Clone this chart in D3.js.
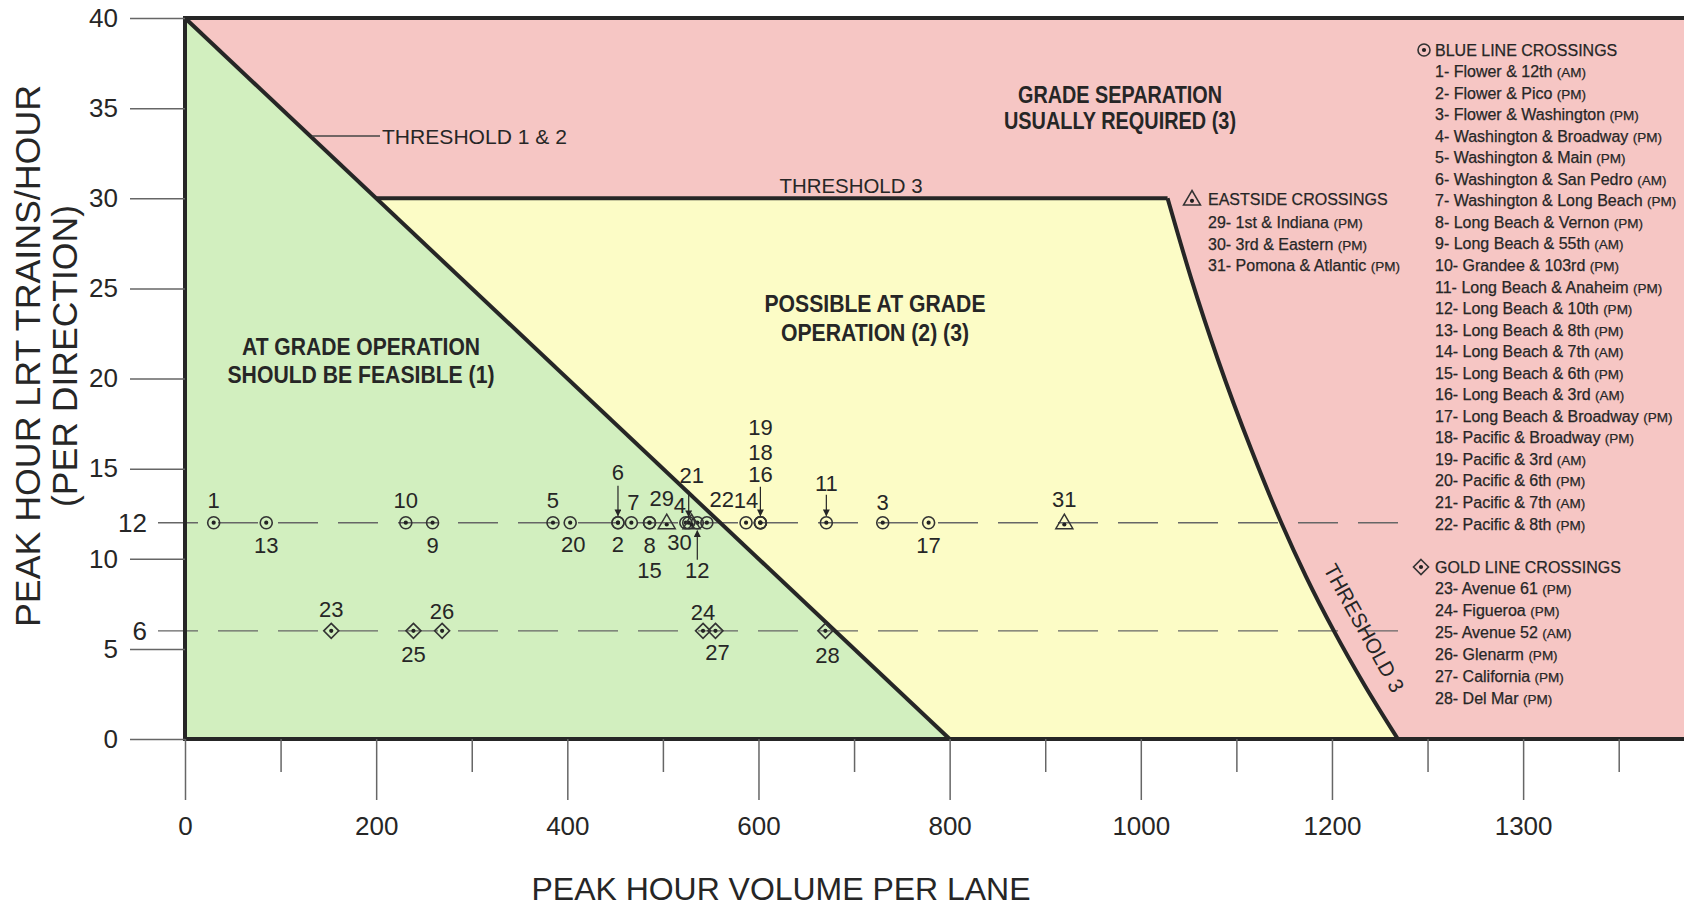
<!DOCTYPE html>
<html>
<head>
<meta charset="utf-8">
<title>LRT crossings</title>
<script src="https://cdn.jsdelivr.net/npm/d3@7"></script>
<style>
body { margin: 0; background: #fff; }
svg text { font-family: "Liberation Sans", Arial, sans-serif; fill: #262626; }
</style>
</head>
<body>
<svg width="1684" height="906"></svg>
<script>
// ---- data ----
var blueIds = [1,2,3,4,5,6,7,8,9,10,11,12,13,14,15,16,17,18,19,20,21,22];
var blueVolume = [30,453,730,524,385,453,467,486,259,231,671,536,85,587,486,602,778,602,602,403,527,546];
var blueTrains = [12,12,12,12,12,12,12,12,12,12,12,12,12,12,12,12,12,12,12,12,12,12];
var blueNames = ["Flower & 12th","Flower & Pico","Flower & Washington","Washington & Broadway",
  "Washington & Main","Washington & San Pedro","Washington & Long Beach","Long Beach & Vernon",
  "Long Beach & 55th","Grandee & 103rd","Long Beach & Anaheim","Long Beach & 10th",
  "Long Beach & 8th","Long Beach & 7th","Long Beach & 6th","Long Beach & 3rd",
  "Long Beach & Broadway","Pacific & Broadway","Pacific & 3rd","Pacific & 6th",
  "Pacific & 7th","Pacific & 8th"];
var blueTimes = ["AM","PM","PM","PM","PM","AM","PM","PM","AM","PM","PM","PM","PM","AM","PM","AM","PM","PM","AM","PM","AM","PM"];

var goldIds = [23,24,25,26,27,28];
var goldVolume = [153,542,239,269,555,670];
var goldTrains = [6,6,6,6,6,6];
var goldNames = ["Avenue 61","Figueroa","Avenue 52","Glenarm","California","Del Mar"];
var goldTimes = ["PM","PM","AM","PM","PM","PM"];

var eastIds = [29,30,31];
var eastVolume = [504,530,920];
var eastTrains = [12,12,12];
var eastNames = ["1st & Indiana","3rd & Eastern","Pomona & Atlantic"];
var eastTimes = ["PM","PM","PM"];

// zone boundaries (volume, trains)
var threshold12 = [[0,40],[800,0]];
var threshold3Flat = [[200,30],[1028,30]];
var threshold3Curve = [[1028,30],[1053,25.5],[1081,21],[1116,16],[1147,12],[1173,9],[1202,6],[1234,3],[1269,0]];

var xTicks = [0,200,400,600,800,1000,1200,1400];
var xTickLabels = ["0","200","400","600","800","1000","1200","1300"];
var xMinorTicks = [100,300,500,700,900,1100,1300,1500];
var yTicks = [0,5,10,15,20,25,30,35,40];
var refLines = [12,6];

// label placement around each marker: [dx, dy, arrowFrom, arrowTo]
var labelLayout = {
  1:[0,-15], 13:[0,30], 10:[0,-15], 9:[0,30], 5:[0,-15], 20:[3,29], 2:[0,29],
  6:[0,-43,-37,-7], 7:[2,-13], 8:[0,30], 15:[0,55], 4:[-6,-10], 21:[3,-40,-32,-6],
  12:[0,55,-37,-8], 22:[15,-16], 14:[0,-15], 16:[0,-41,-36,-7], 18:[0,-63], 19:[0,-88],
  11:[0,-32,-28,-7], 3:[0,-13], 17:[0,30],
  29:[-5,-17], 30:[-12,27], 31:[0,-16],
  23:[0,-14], 24:[0,-11], 25:[0,31], 26:[0,-12], 27:[2,29], 28:[2,32]
};

var svg = d3.select('svg');
var W = 1684;

var x = d3.scaleLinear().domain([0,1400]).range([185, 185 + 1400*0.9558]);
var y = d3.scaleLinear().domain([0,40]).range([739, 18]);

var pink = '#f6c6c4', green = '#d2efbf', yellow = '#fcfcc6', ink = '#262626';

// zones
svg.append('rect')
  .attr('x', x(0)).attr('y', y(40))
  .attr('width', W - x(0)).attr('height', y(0) - y(40))
  .attr('fill', pink);

svg.append('path')
  .attr('d', d3.line()([[x(0),y(40)],[x(800),y(0)],[x(0),y(0)]]) + 'Z')
  .attr('fill', green);

var curveGen = d3.line().x(function(d){ return x(d[0]); }).y(function(d){ return y(d[1]); })
  .curve(d3.curveMonotoneX);
var curvePath = curveGen(threshold3Curve);

svg.append('path')
  .attr('d', 'M' + x(threshold3Flat[0][0]) + ',' + y(threshold3Flat[0][1]) + 'L' + curvePath.substring(1)
     + 'L' + x(800) + ',' + y(0) + 'Z')
  .attr('fill', yellow);

// reference dashed lines
refLines.forEach(function(v){
  svg.append('line')
    .attr('x1', 158).attr('x2', 1412)
    .attr('y1', y(v)).attr('y2', y(v))
    .attr('stroke', '#666').attr('stroke-width', 1.4)
    .attr('stroke-dasharray', '40,20');
  svg.append('text')
    .text(v)
    .attr('x', 147).attr('y', y(v)).attr('dy', '0.36em')
    .attr('text-anchor', 'end')
    .attr('font-size', '26px');
});

// threshold lines
var lineGen = d3.line().x(function(d){ return x(d[0]); }).y(function(d){ return y(d[1]); });
svg.append('path').attr('d', lineGen(threshold12))
  .attr('stroke', ink).attr('stroke-width', 4).attr('fill', 'none');
svg.append('path').attr('d', lineGen(threshold3Flat))
  .attr('stroke', ink).attr('stroke-width', 4).attr('fill', 'none');
svg.append('path').attr('d', curvePath)
  .attr('stroke', ink).attr('stroke-width', 4).attr('fill', 'none');

// frame
svg.append('path')
  .attr('d', 'M' + W + ',' + y(40) + 'L' + x(0) + ',' + y(40) + 'L' + x(0) + ',' + y(0) + 'L' + W + ',' + y(0))
  .attr('stroke', ink).attr('stroke-width', 4).attr('fill', 'none');

// axes
var yAxis = svg.append('g')
  .attr('transform', 'translate(' + x(0) + ',0)')
  .call(d3.axisLeft(y).tickValues(yTicks).tickSize(55).tickPadding(12));
yAxis.select('.domain').remove();
yAxis.selectAll('line').attr('stroke', '#666').attr('stroke-width', 1.5);
yAxis.selectAll('text').attr('font-size', '26px').attr('fill', '#333')
  .style('font-family', '"Liberation Sans", Arial, sans-serif');

var xAxis = svg.append('g')
  .attr('transform', 'translate(0,' + y(0) + ')')
  .call(d3.axisBottom(x).tickValues(xTicks).tickSize(61).tickPadding(17)
    .tickFormat(function(d, i){ return xTickLabels[i]; }));
xAxis.select('.domain').remove();
xAxis.selectAll('line').attr('stroke', '#666').attr('stroke-width', 1.5);
xAxis.selectAll('text').attr('font-size', '26px').attr('fill', '#333')
  .style('font-family', '"Liberation Sans", Arial, sans-serif');

var xMinor = svg.append('g')
  .attr('transform', 'translate(0,' + y(0) + ')')
  .call(d3.axisBottom(x).tickValues(xMinorTicks).tickSize(33).tickFormat(''));
xMinor.select('.domain').remove();
xMinor.selectAll('line').attr('stroke', '#666').attr('stroke-width', 1.5);

// axis titles
svg.append('text')
  .text('PEAK HOUR VOLUME PER LANE')
  .attr('x', 781).attr('y', 900)
  .attr('text-anchor', 'middle')
  .attr('font-size', '32px')
  .attr('textLength', 499).attr('lengthAdjust', 'spacingAndGlyphs')
  .attr('fill', '#333');

svg.append('text')
  .text('PEAK HOUR LRT TRAINS/HOUR')
  .attr('transform', 'translate(40,356) rotate(-90)')
  .attr('text-anchor', 'middle')
  .attr('font-size', '35px')
  .attr('textLength', 542).attr('lengthAdjust', 'spacingAndGlyphs')
  .attr('fill', '#333');

svg.append('text')
  .text('(PER DIRECTION)')
  .attr('transform', 'translate(77,356) rotate(-90)')
  .attr('text-anchor', 'middle')
  .attr('font-size', '35px')
  .attr('textLength', 302).attr('lengthAdjust', 'spacingAndGlyphs')
  .attr('fill', '#333');

// zone captions
function caption(lines, cx, baselines, lengths) {
  lines.forEach(function(t, i){
    svg.append('text')
      .text(t)
      .attr('x', cx).attr('y', baselines[i])
      .attr('text-anchor', 'middle')
      .attr('font-size', '23px').attr('font-weight', 'bold')
      .attr('textLength', lengths[i]).attr('lengthAdjust', 'spacingAndGlyphs');
  });
}
caption(['GRADE SEPARATION','USUALLY REQUIRED (3)'], 1120, [103,129], [204,232]);
caption(['POSSIBLE AT GRADE','OPERATION (2) (3)'], 875, [312,341], [221,188]);
caption(['AT GRADE OPERATION','SHOULD BE FEASIBLE (1)'], 361, [355,383], [238,267]);

svg.append('line')
  .attr('x1', 312).attr('x2', 380).attr('y1', 136).attr('y2', 136)
  .attr('stroke', '#444').attr('stroke-width', 1.3);
svg.append('text')
  .text('THRESHOLD 1 & 2')
  .attr('x', 382).attr('y', 144)
  .attr('font-size', '21px')
  .attr('textLength', 185).attr('lengthAdjust', 'spacingAndGlyphs');
svg.append('text')
  .text('THRESHOLD 3')
  .attr('x', 851).attr('y', 193)
  .attr('text-anchor', 'middle')
  .attr('font-size', '21px')
  .attr('textLength', 143).attr('lengthAdjust', 'spacingAndGlyphs');
svg.append('text')
  .text('THRESHOLD 3')
  .attr('transform', 'translate(1364,628) rotate(61)')
  .attr('text-anchor', 'middle')
  .attr('dy', '0.35em')
  .attr('font-size', '21px')
  .attr('textLength', 143).attr('lengthAdjust', 'spacingAndGlyphs');

// markers
svg.append('defs').append('marker')
  .attr('id', 'arr').attr('viewBox', '0 0 10 10')
  .attr('refX', 9).attr('refY', 5)
  .attr('markerWidth', 7).attr('markerHeight', 7)
  .attr('markerUnits', 'userSpaceOnUse')
  .attr('orient', 'auto')
  .append('path').attr('d', 'M0,0L10,5L0,10Z').attr('fill', ink);

function drawMarker(g, type, cx, cy) {
  var m = g.append('g').attr('transform', 'translate(' + cx + ',' + cy + ')');
  if (type === 'circle') {
    m.append('circle').attr('r', 6).attr('fill', 'none').attr('stroke', '#333').attr('stroke-width', 1.6);
  } else if (type === 'diamond') {
    m.append('path').attr('d', 'M0,-7.5L7.5,0L0,7.5L-7.5,0Z').attr('fill', 'none').attr('stroke', '#333').attr('stroke-width', 1.6);
  } else {
    m.append('path').attr('d', 'M0,-8.5L8.5,6L-8.5,6Z').attr('fill', 'none').attr('stroke', '#333').attr('stroke-width', 1.5);
  }
  m.append('circle').attr('r', 2.1).attr('cy', type === 'triangle' ? 1.8 : 0).attr('fill', '#222');
}

var pts = svg.append('g');
function plotSeries(ids, vols, trains, type) {
  ids.forEach(function(id, i){
    var px = x(vols[i]), py = y(trains[i]);
    drawMarker(pts, type, px, py);
    var L = labelLayout[id];
    pts.append('text')
      .text(id)
      .attr('x', px + L[0]).attr('y', py + L[1])
      .attr('text-anchor', 'middle')
      .attr('font-size', '22px');
    if (L.length > 2) {
      var from = L[2], to = L[3];
      if (L[1] > 0) { from = -L[2]; to = -L[3]; }
      pts.append('line')
        .attr('x1', px).attr('x2', px)
        .attr('y1', py + from).attr('y2', py + to)
        .attr('stroke', ink).attr('stroke-width', 1.2)
        .attr('marker-end', 'url(#arr)');
    }
  });
}
plotSeries(blueIds, blueVolume, blueTrains, 'circle');
plotSeries(goldIds, goldVolume, goldTrains, 'diamond');
plotSeries(eastIds, eastVolume, eastTrains, 'triangle');

// legend blocks
function legend(type, sx, sy, title, tx, ty, ids, names, times, y0, step) {
  var g = svg.append('g');
  drawMarker(g, type, sx, sy);
  g.append('text').text(title)
    .attr('x', tx).attr('y', ty)
    .attr('font-size', '16px')
    .attr('stroke', '#262626').attr('stroke-width', 0.25);
  ids.forEach(function(id, i){
    var t = g.append('text')
      .attr('x', tx).attr('y', y0 + i*step)
      .attr('font-size', '16px')
      .attr('stroke', '#262626').attr('stroke-width', 0.25);
    t.append('tspan').text(id + '- ' + names[i] + ' ');
    t.append('tspan').text('(' + times[i] + ')').attr('font-size', '13.5px');
  });
}
legend('circle', 1424, 50, 'BLUE LINE CROSSINGS', 1435, 56, blueIds, blueNames, blueTimes, 77, 21.55);
legend('diamond', 1421, 567, 'GOLD LINE CROSSINGS', 1435, 573, goldIds, goldNames, goldTimes, 594, 22);
legend('triangle', 1192, 199, 'EASTSIDE CROSSINGS', 1208, 205, eastIds, eastNames, eastTimes, 228, 21.5);
</script>
</body>
</html>
